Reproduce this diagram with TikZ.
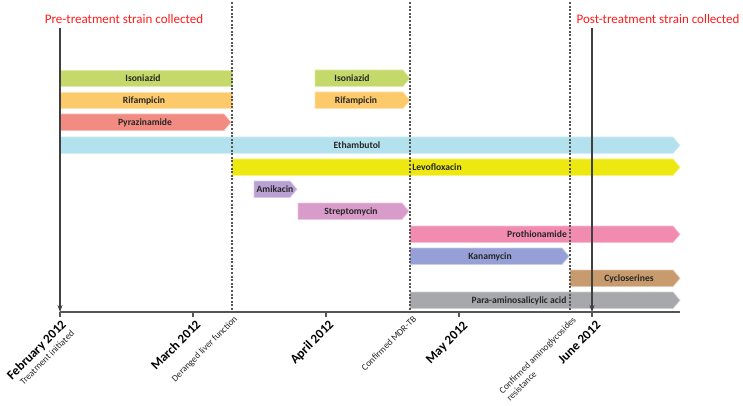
\documentclass[tikz,border=0pt]{standalone}
\usepackage{fontspec}
\setmainfont{Carlito}
\usetikzlibrary{arrows.meta,calc}
\definecolor{cIso}{HTML}{C5D96B}
\definecolor{cRif}{HTML}{FDCA6B}
\definecolor{cPyr}{HTML}{F28B82}
\definecolor{cEth}{HTML}{B3E1ED}
\definecolor{cLev}{HTML}{EEE811}
\definecolor{cAmi}{HTML}{B9A1D3}
\definecolor{cStr}{HTML}{D99BC9}
\definecolor{cPro}{HTML}{F28BB0}
\definecolor{cKan}{HTML}{96A0D6}
\definecolor{cCyc}{HTML}{C79B6E}
\definecolor{cPas}{HTML}{A6A8AB}
\definecolor{axisgray}{HTML}{555555}
\definecolor{titlered}{HTML}{FF1A1A}
\newcommand\tipbar[4]{% x1, x2, ytop, colour
  \path[fill=#4, draw=#4!55!white, line width=0.7pt]
    (#1,#3) -- ({#2-7},#3) -- (#2,{#3+8.25}) -- ({#2-7},{#3+16.5}) -- (#1,{#3+16.5}) -- cycle;}
\newcommand\flatbar[4]{% x1, x2, ytop, colour
  \path[fill=#4, draw=#4!55!white, line width=0.7pt]
    (#1,#3) rectangle (#2,{#3+16.5});}
\tikzset{
  lbl/.style={font=\bfseries\fontsize{9.6}{11}\selectfont, text=black!85, inner sep=0pt},
  ttl/.style={font=\fontsize{13}{15}\selectfont, text=titlered, inner sep=0pt},
  datelbl/.style={font=\bfseries\fontsize{13}{15}\selectfont, rotate=45, anchor=base east, inner sep=0pt},
  evlbl/.style={font=\fontsize{9.3}{10}\selectfont, rotate=45, anchor=base east, inner sep=0pt, text=black!85},
  dashline/.style={axisgray, line width=1.3pt, dash pattern=on 2pt off 1.6pt},
  sampleline/.style={black!75, line width=1.1pt, -{Stealth[length=7pt,width=5pt]}},
}
\begin{document}
\begin{tikzpicture}[x=1pt,y=-1pt]
\useasboundingbox (0,0) rectangle (743,406);
% bars
\flatbar{60}{232}{70}{cIso}
\tipbar{315}{410}{70}{cIso}
\flatbar{60}{232}{92}{cRif}
\tipbar{315}{410}{92}{cRif}
\tipbar{60}{231}{114}{cPyr}
\tipbar{60}{680}{137}{cEth}
\tipbar{232}{680}{159}{cLev}
\tipbar{254}{297}{181}{cAmi}
\tipbar{298}{409}{203}{cStr}
\tipbar{410}{680}{226}{cPro}
\tipbar{410}{569}{248}{cKan}
\tipbar{570}{680}{270}{cCyc}
\tipbar{410}{680}{292}{cPas}
% bar labels
\node[lbl] (iso1) at (143,78.5) {Isoniazid};
\node[lbl] (iso2) at (352,78.5) {Isoniazid};
\node[lbl] (rif1) at (144,100.5) {Rifampicin};
\node[lbl] (rif2) at (356,100.5) {Rifampicin};
\node[lbl] (pyr) at (145,122.5) {Pyrazinamide};
\node[lbl] (eth) at (357,145.5) {Ethambutol};
\node[lbl] (lev) at (437,167.5) {Levofloxacin};
\node[lbl] (ami) at (275,189.5) {Amikacin};
\node[lbl] (str) at (351,211.5) {Streptomycin};
\node[lbl] (pro) at (537,234.5) {Prothionamide};
\node[lbl] (kan) at (490,256.5) {Kanamycin};
\node[lbl] (cyc) at (629,278.5) {Cycloserines};
\node[lbl] (pas) at (519,300.5) {Para-aminosalicylic acid};
% axis
\coordinate (axL) at (60,312);
\coordinate (axR) at (680,312);
\draw[axisgray, line width=1.2pt] (axL) -- (axR);
\foreach \nm/\x in {feb/60,mar/193,apr/326,may/459,jun/592}{
  \coordinate (t\nm) at (\x,312);
  \draw[axisgray, line width=1.2pt] (t\nm) -- ++(0,4.5);
}
% dashed event lines
\foreach \nm/\x in {liver/232,mdr/410,amino/570}{
  \coordinate (d\nm top) at (\x,2);
  \coordinate (d\nm) at (\x,312);
  \draw[dashline] (d\nm top) -- (d\nm);
}
% titles and sample lines
\node[ttl] (pre) at (124,19) {Pre-treatment strain collected};
\node[ttl] (post) at (658,19) {Post-treatment strain collected};
\coordinate (preTop) at (60,28);
\coordinate (postTop) at (592,28);
\draw[sampleline] (preTop) -- (tfeb);
\draw[sampleline] (postTop) -- (tjun);
% date labels
\node[datelbl] (lfeb) at ($(tfeb)+(7,13.5)$) {February 2012};
\node[evlbl] (efeb) at ($(lfeb.base east)+(8,8.5)$) {Treatment initiated};
\node[datelbl] (lmar) at ($(tmar)+(8.5,13.5)$) {March 2012};
\node[datelbl] (lapr) at ($(tapr)+(8.5,13.5)$) {April 2012};
\node[datelbl] (lmay) at ($(tmay)+(9.5,14.5)$) {May 2012};
\node[datelbl] (ljun) at ($(tjun)+(9.5,14)$) {June 2012};
% event labels
\node[evlbl] (eliver) at ($(dliver)+(6,7.5)$) {Deranged liver function};
\node[evlbl] (emdr) at ($(dmdr)+(7,7.5)$) {Confirmed MDR-TB};
\node[evlbl] (eamino) at ($(damino)+(6.5,8.5)$) {Confirmed aminoglycosides};
\node[evlbl, anchor=base west] (eresist) at ($(eamino.base west)+(7.5,7.5)$) {resistance};
\end{tikzpicture}
\end{document}
